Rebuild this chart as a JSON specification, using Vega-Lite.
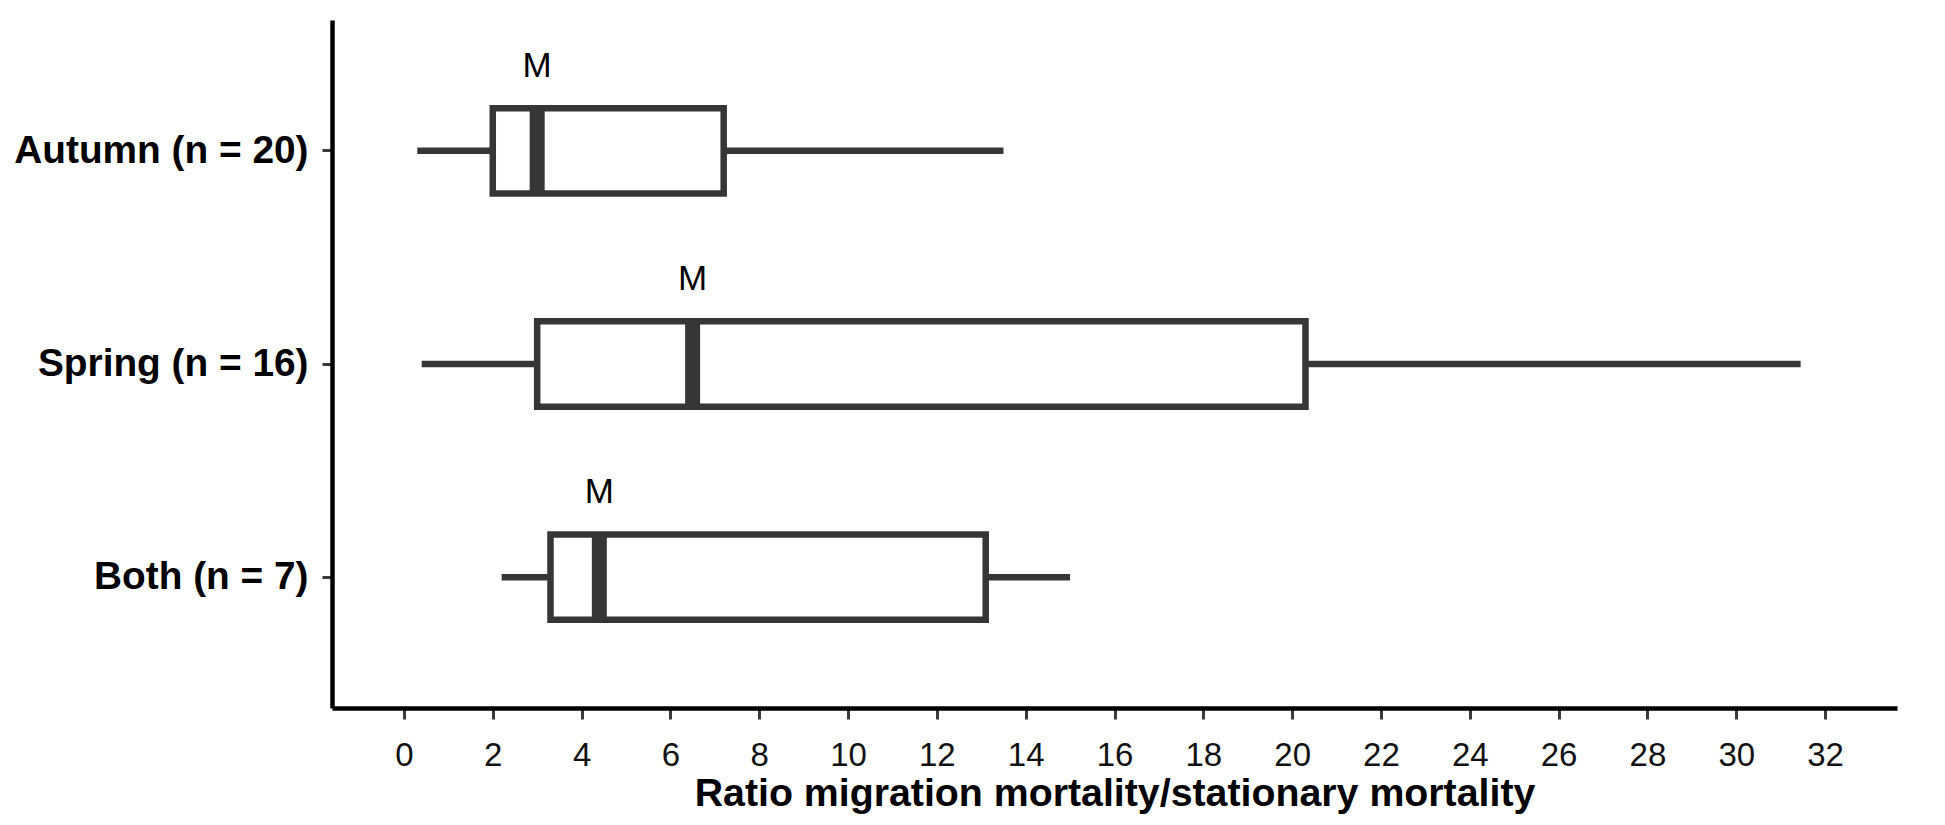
{
  "$schema": "https://vega.github.io/schema/vega-lite/v6.json",
  "autosize": "none",
  "padding": {"left": 332, "top": 20, "right": 48, "bottom": 117},
  "width": 1565,
  "height": 688,
  "background": "white",
  "config": {
    "view": {"stroke": null},
    "font": "Liberation Sans",
    "axis": {
      "grid": false,
      "domainColor": "#000000",
      "domainWidth": 4.5,
      "tickColor": "#3a3a3a",
      "tickWidth": 3,
      "labelFont": "Liberation Sans",
      "labelColor": "#111111",
      "labelLimit": 0,
      "titleFont": "Liberation Sans",
      "titleColor": "#111111"
    }
  },
  "data": {
    "values": [
      {"group": "Autumn (n = 20)", "lo": 0.3, "q1": 2.0, "median": 3.0, "q3": 7.2, "hi": 13.5, "label": "M"},
      {"group": "Spring (n = 16)", "lo": 0.4, "q1": 3.0, "median": 6.5, "q3": 20.3, "hi": 31.45, "label": "M"},
      {"group": "Both (n = 7)", "lo": 2.2, "q1": 3.3, "median": 4.4, "q3": 13.1, "hi": 15.0, "label": "M"}
    ]
  },
  "encoding": {
    "y": {
      "field": "group",
      "type": "nominal",
      "sort": null,
      "scale": {"type": "band", "paddingInner": 0, "paddingOuter": 0.114},
      "axis": {
        "title": null,
        "labelFontSize": 38.8,
        "labelFontWeight": "bold",
        "labelColor": "#000000",
        "tickSize": 10,
        "labelPadding": 14
      }
    }
  },
  "layer": [
    {
      "mark": {"type": "rule", "color": "#363636", "strokeWidth": 6.5},
      "encoding": {
        "x": {
          "field": "lo",
          "type": "quantitative",
          "scale": {"domain": [-1.62, 33.62], "nice": false, "zero": false},
          "axis": {
            "values": [0, 2, 4, 6, 8, 10, 12, 14, 16, 18, 20, 22, 24, 26, 28, 30, 32],
            "title": "Ratio migration mortality/stationary mortality",
            "titleFontSize": 39.3,
            "titleFontWeight": "bold",
            "titleColor": "#000000",
            "titlePadding": 2,
            "labelFontSize": 33,
            "labelPadding": 20,
            "tickSize": 11
          }
        },
        "x2": {"field": "q1"}
      }
    },
    {
      "mark": {"type": "rule", "color": "#363636", "strokeWidth": 6.5},
      "encoding": {
        "x": {"field": "q3", "type": "quantitative"},
        "x2": {"field": "hi"}
      }
    },
    {
      "mark": {"type": "bar", "fill": "#ffffff", "stroke": "#363636", "strokeWidth": 6.5, "height": {"band": 0.4}},
      "encoding": {
        "x": {"field": "q1", "type": "quantitative"},
        "x2": {"field": "q3"}
      }
    },
    {
      "mark": {"type": "tick", "color": "#363636", "opacity": 1, "thickness": 15},
      "encoding": {
        "x": {"field": "median", "type": "quantitative"},
        "size": {"value": 86}
      }
    },
    {
      "mark": {"type": "text", "font": "Liberation Sans", "fontSize": 35, "color": "#000000", "baseline": "middle", "align": "center", "dy": -85},
      "encoding": {
        "x": {"field": "median", "type": "quantitative"},
        "text": {"field": "label"}
      }
    }
  ]
}
